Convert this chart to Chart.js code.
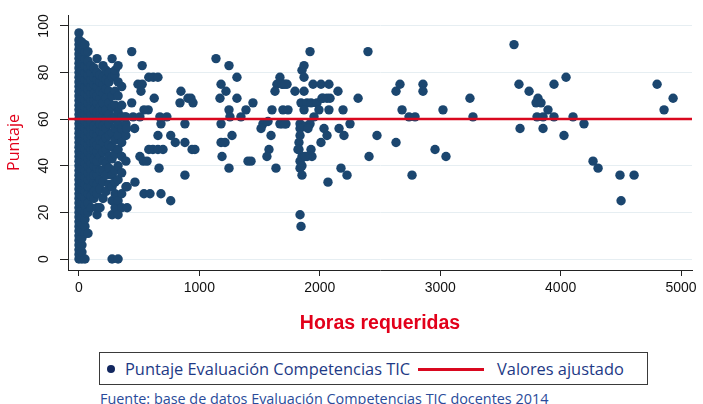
<!DOCTYPE html>
<html>
<head>
<meta charset="utf-8">
<script src="https://cdn.jsdelivr.net/npm/chart.js@4/dist/chart.umd.min.js"></script>
<style>
  html, body { margin: 0; padding: 0; background: #ffffff; }
  #wrap { position: relative; width: 703px; height: 404px; overflow: hidden; }
  #c { position: absolute; left: 0; top: 0; }
  #legend { position: absolute; left: 99px; top: 352px; width: 547px; height: 31px;
            border: 1px solid #3a3a3a; box-sizing: content-box;
            font-family: 'Open Sans', 'Noto Sans', sans-serif; font-size: 16.4px; color: #1e3a86; }
  .lg { position: absolute; top: 0; height: 31px; line-height: 31px; white-space: nowrap; }
  #dot { position: absolute; left: 7px; top: 12px; width: 8px; height: 8px; border-radius: 50%; background: #12275f; }
  #redline { position: absolute; left: 318px; top: 15px; width: 66px; height: 3px; background: #d9081f; }
  #footer { position: absolute; left: 100px; top: 389px; font-family: 'Open Sans', 'Noto Sans', sans-serif;
            font-size: 14.4px; color: #2a4b9a; white-space: nowrap; }
</style>
</head>
<body>
<div id="wrap">
  <canvas id="c" width="703" height="345"></canvas>
  <div id="legend">
    <div id="dot"></div>
    <div class="lg" id="lt1" style="left:25px"></div>
    <div id="redline"></div>
    <div class="lg" id="lt2" style="left:397px"></div>
  </div>
  <div id="footer"></div>
</div>
<script>
// ---- Data ----
const serieNombre = 'Puntaje Evaluación Competencias TIC';
const ajusteNombre = 'Valores ajustado';
const tituloX = 'Horas requeridas';
const tituloY = 'Puntaje';
const fuente = 'Fuente: base de datos Evaluación Competencias TIC docentes 2014';

const xTicks = [0, 1000, 2000, 3000, 4000, 5000];
const yTicks = [0, 20, 40, 60, 80, 100];

// dense core (hours column -> list of scores)
const nucleoHoras = [0, 25, 50, 75, 100, 125, 150, 175, 200, 225, 250, 275, 300, 325, 355, 390];
const nucleoPuntaje = [
  [0,2,4,6,8,10,12,14,16,18,20,22,24,26,28,30,32,34,36,38,40,42,44,46,48,50,52,54,56,58,60,62,64,66,68,70,72,74,76,78,80,82,84,86,88,90,92,94,97],
  [0,3,6,9,12,15,18,21,24,27,30,33,36,39,42,45,48,51,54,57,60,63,66,69,72,75,78,81,84,87,90,93],
  [0,11,14,17,20,23,26,29,32,35,38,41,44,47,50,53,56,59,62,65,68,71,74,77,80,83,86,89,92],
  [11,20,24,28,31,34,37,40,43,46,49,52,55,58,61,64,67,70,73,76,79,82,85,89],
  [22,27,31,35,38,41,44,47,50,53,56,59,62,65,68,71,74,77,80,83],
  [26,29,33,36,40,43,47,50,54,57,61,64,68,71,75,78,82],
  [19,22,28,32,36,39,42,46,49,53,56,60,63,67,70,74,77,80,86],
  [22,30,34,38,44,48,51,55,58,62,65,69,72,76,79],
  [26,33,38,42,46,50,54,57,61,64,67,71,75,78,83],
  [29,36,41,47,52,56,60,64,69,73,77,81],
  [32,39,44,49,53,58,62,67,72,76,80],
  [0,19,25,31,36,43,48,54,60,65,70,78,86],
  [22,28,33,38,45,51,56,61,66,72,79,81],
  [0,19,25,34,40,47,53,58,63,70,76,83],
  [22,28,37,44,50,56,61,66,74],
  [31,42,53,58,61]
];

// scattered observations
const dispersoHoras = [438,525,490,525,515,580,617,656,625,438,575,540,382,450,506,462,396,672,730,681,656,762,800,880,580,614,656,698,506,535,565,665,880,465,400,540,590,681,762,400,847,839,905,930,947,880,939,963,
  1138,1246,1180,1221,1312,1171,1312,1246,1254,1345,1387,1180,1271,1180,1213,1188,1246,1404,
  1445,1528,1512,1595,1578,1561,1429,1636,1669,1644,1694,1728,1628,1603,1694,1736,1669,1719,1570,1686,1711,1686,1711,
  1794,1869,1852,1869,1869,1919,1944,2010,2076,1844,1894,1927,1977,2018,2060,2085,2027,1869,1993,2076,1952,1836,1877,1919,1836,1902,2035,2160,2060,2201,2251,2193,2151,2318,
  1836,1827,1827,1852,1927,1935,1894,2010,1836,1836,1852,2176,2226,2068,1836,1844,1819,1877,1852,
  2400,2409,2475,2633,2666,2683,2741,2791,2633,2766,2857,2857,2957,3023,3048,3247,3272,
  3613,3654,3663,3738,3812,3796,3837,3804,3854,3945,3895,3854,3945,4045,4028,4103,4194,4269,4311,4493,4502,4610,4801,4859,4934];
const dispersoPuntaje = [89,83,75,75,72,78,78,78,69,67,64,64,61,61,61,56,56,61,61,58,53,53,50,50,47,47,47,47,44,42,42,39,36,33,31,28,28,28,25,22,72,67,69,69,67,58,47,47,
  86,83,75,72,78,69,69,64,61,61,64,58,53,50,50,44,39,42,
  67,58,56,53,47,44,42,39,78,75,75,75,72,64,64,64,58,58,59,75,75,58,58,
  72,72,81,83,78,89,75,75,75,67,67,67,67,69,69,69,69,64,64,64,61,58,57,58,56,56,56,56,53,53,58,64,72,69,
  53,50,47,44,47,44,44,50,42,39,36,39,36,33,19,14,47,44,40,
  89,44,53,72,75,64,61,61,50,36,75,72,47,64,44,69,61,
  92,75,56,72,69,67,67,61,61,61,64,56,75,78,53,61,58,42,39,36,25,36,75,64,69];

// fitted values
const ajusteHoras = [-91, 5091];
const ajustePuntaje = [60.1, 60.1];

// ---- Build ----
const puntos = [];
nucleoHoras.forEach((h, i) => nucleoPuntaje[i].forEach(p => puntos.push({ x: h, y: p })));
dispersoHoras.forEach((h, i) => puntos.push({ x: h, y: dispersoPuntaje[i] }));
const linea = ajusteHoras.map((h, i) => ({ x: h, y: ajustePuntaje[i] }));

document.getElementById('lt1').textContent = serieNombre;
document.getElementById('lt2').textContent = ajusteNombre;
document.getElementById('footer').textContent = fuente;

const RED = '#e2001a';
new Chart(document.getElementById('c'), {
  type: 'scatter',
  data: {
    datasets: [
      { label: ajusteNombre, type: 'line', data: linea, borderColor: '#d9081f', borderWidth: 2.6,
        pointRadius: 0, fill: false, order: 0 },
      { label: serieNombre, data: puntos, backgroundColor: '#1b466f', borderWidth: 0,
        pointRadius: 4.7, pointHoverRadius: 4.7, order: 1 }
    ]
  },
  options: {
    responsive: false,
    animation: false,
    events: [],
    layout: { padding: { top: 15, right: 11, left: 0, bottom: 0 } },
    plugins: { legend: { display: false }, tooltip: { enabled: false } },
    scales: {
      x: {
        type: 'linear', min: -91, max: 5091,
        afterBuildTicks: s => { s.ticks = xTicks.map(v => ({ value: v })); },
        ticks: { color: '#111', font: { family: "'Liberation Sans', Arial, sans-serif", size: 14 }, padding: 4, maxRotation: 0,
                 callback: v => String(v) },
        grid: { display: true, drawOnChartArea: false, tickLength: 6, tickColor: '#222' },
        border: { color: '#222', width: 1 },
        title: { display: true, text: tituloX, color: RED,
                 font: { family: "'Liberation Sans', Arial, sans-serif", size: 19.5, weight: 'bold' },
                 padding: { top: 0, bottom: 10 } },
        afterFit: s => { s.height = 75; }
      },
      y: {
        type: 'linear', min: -4.7, max: 104.7,
        afterBuildTicks: s => { s.ticks = yTicks.map(v => ({ value: v })); },
        ticks: { color: '#111', font: { family: "'Liberation Sans', Arial, sans-serif", size: 14 },
                 minRotation: 90, maxRotation: 90, crossAlign: 'center', padding: 4, callback: v => String(v) },
        grid: { color: '#e6eef2', lineWidth: 1, tickLength: 8, tickColor: '#222' },
        border: { color: '#222', width: 1 },
        title: { display: true, text: tituloY, color: RED,
                 font: { family: "'Open Sans', 'Noto Sans', sans-serif", size: 16 },
                 padding: { top: 5, bottom: 0 } },
        afterFit: s => { s.width = 68; }
      }
    }
  }
});
</script>
</body>
</html>
